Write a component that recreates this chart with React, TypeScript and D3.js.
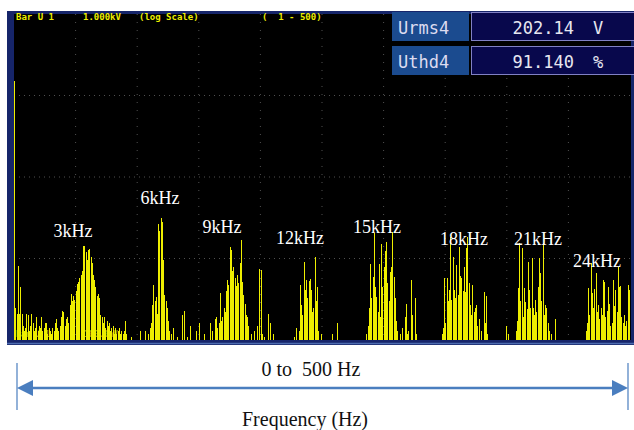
import React from "react";
import * as d3 from "d3";

// harmonic order / amplitude (V)
const bandFundamental = [
  [1, 149], [2, 0.25], [3, 0.21], [4, 0.81], [5, 0.21], [6, 0.45], [7, 0.21], [8, 0.15], [9, 0.13], [10, 0.14],
  [11, 0.21], [12, 0.2], [13, 0.13], [14, 0.15], [15, 0.21], [16, 0.16], [17, 0.13], [18, 0.14], [19, 0.19], [20, 0.13],
  [21, 0.15], [22, 0.14], [23, 0.19], [24, 0.13], [25, 0.14], [26, 0.16], [27, 0.16], [28, 0.12], [29, 0.14], [30, 0.13],
  [31, 0.12], [32, 0.14], [33, 0.13], [34, 0.16], [35, 0.18], [36, 0.14],
];
const band3k = [
  [37, 0.13], [38, 0.15], [39, 0.19], [40, 0.23], [41, 0.22], [42, 0.15], [43, 0.18], [44, 0.19], [45, 0.16], [46, 0.27],
  [47, 0.37], [48, 0.3], [49, 0.35], [50, 0.31], [51, 0.4], [52, 0.49], [53, 0.51], [54, 0.57], [55, 0.62], [56, 0.7],
  [57, 1.42], [58, 1.42], [59, 1.2], [60, 0.95], [61, 1.27], [62, 1.3], [63, 1.05], [64, 0.88], [65, 0.62], [66, 0.55],
  [67, 0.45], [68, 0.35], [69, 0.37], [70, 0.33], [71, 0.2], [72, 0.19], [73, 0.16], [74, 0.19], [75, 0.14], [76, 0.17],
  [77, 0.15], [78, 0.16], [79, 0.13], [80, 0.14], [81, 0.15], [82, 0.12], [83, 0.14], [84, 0.12], [85, 0.13], [86, 0.14],
  [87, 0.12], [88, 0.13], [89, 0.12], [90, 0.13], [91, 0.17], [92, 0.12], [96, 0.11], [103, 0.13], [107, 0.13],
];
const band6k = [
  [110, 0.12], [111, 0.14], [112, 0.16], [113, 0.27], [114, 0.47], [115, 0.3], [116, 0.34], [117, 0.21], [118, 2.66], [119, 2.2],
  [120, 3.15], [121, 2.81], [122, 0.95], [123, 0.36], [124, 0.3], [125, 0.25], [126, 0.17], [127, 0.13], [128, 0.12], [130, 0.14],
  [133, 0.11], [137, 0.2], [139, 0.23], [141, 0.11], [144, 0.15], [149, 0.13], [151, 0.16], [155, 0.12], [160, 0.16],
];
const band9k = [
  [162, 0.13], [164, 0.18], [165, 0.19], [166, 0.14], [167, 0.16], [168, 0.38], [169, 0.17], [170, 0.19], [171, 0.25], [172, 0.22],
  [173, 0.4], [174, 0.54], [175, 0.47], [176, 1.38], [177, 1.27], [178, 0.7], [179, 0.78], [180, 0.57], [181, 0.46], [182, 0.62],
  [183, 0.5], [184, 0.88], [185, 1.69], [186, 0.52], [187, 0.36], [188, 0.28], [189, 0.2], [190, 0.19], [191, 0.15], [193, 0.12],
  [196, 0.13], [198, 0.15], [200, 0.74], [201, 0.72], [202, 0.12], [204, 0.11], [207, 0.21], [209, 0.16], [211, 0.12],
];
const band12k = [
  [228, 0.11], [230, 0.14], [232, 0.13], [233, 0.47], [234, 0.27], [235, 0.2], [236, 0.9], [237, 0.41], [238, 0.54], [239, 0.33],
  [240, 0.53], [241, 0.56], [242, 0.41], [243, 0.22], [244, 0.25], [245, 1.04], [246, 0.3], [247, 0.45], [248, 0.13], [250, 0.12],
  [259, 0.12], [263, 0.16],
];
const band15k = [
  [287, 0.12], [288, 0.15], [289, 0.25], [290, 0.85], [291, 0.33], [292, 0.59], [293, 2.06], [294, 0.45], [295, 0.34], [296, 0.22],
  [297, 0.85], [298, 0.19], [299, 1.5], [300, 0.45], [301, 0.78], [302, 1.23], [303, 1.59], [304, 0.5], [305, 0.3], [306, 0.68],
  [307, 0.78], [308, 2.12], [309, 0.59], [310, 0.33], [311, 0.17], [312, 0.13], [314, 0.12], [316, 0.14], [318, 0.19], [319, 0.28],
  [320, 0.12], [321, 0.13], [323, 0.54], [324, 0.2], [326, 0.33], [327, 0.12],
];
const band18k = [
  [348, 0.12], [349, 0.14], [350, 0.57], [351, 0.16], [352, 0.57], [353, 0.3], [354, 0.41], [355, 1.84], [356, 0.31], [357, 1.04],
  [358, 0.41], [359, 0.33], [360, 0.83], [361, 0.36], [362, 1.38], [363, 0.61], [364, 0.57], [365, 0.4], [366, 0.78], [367, 0.39],
  [368, 1.34], [369, 1.84], [370, 0.5], [371, 0.27], [372, 0.2], [373, 0.47], [374, 0.22], [375, 0.25], [376, 0.27], [377, 0.15],
  [378, 0.18], [380, 0.13], [382, 0.39], [383, 0.16], [384, 0.35], [385, 0.12],
];
const band21k = [
  [400, 0.15], [402, 0.12], [408, 0.13], [409, 0.17], [410, 0.43], [411, 1.55], [412, 0.3], [413, 1.34], [414, 0.19], [415, 0.43],
  [416, 0.29], [417, 0.24], [418, 0.9], [419, 0.41], [420, 0.25], [421, 1.01], [422, 0.25], [423, 0.2], [424, 0.31], [425, 0.22],
  [426, 0.45], [427, 1.01], [428, 0.66], [429, 0.3], [430, 1.55], [431, 0.2], [432, 0.27], [433, 0.25], [434, 0.16], [435, 0.13],
  [437, 0.12], [440, 0.18],
];
const band24k = [
  [465, 0.13], [466, 0.16], [467, 0.43], [468, 0.2], [469, 0.88], [470, 0.38], [471, 0.25], [472, 0.42], [473, 0.66], [474, 0.22],
  [475, 0.27], [476, 0.18], [477, 0.25], [478, 0.2], [479, 0.54], [480, 0.51], [481, 0.19], [482, 0.23], [483, 0.45], [484, 0.28],
  [485, 0.15], [486, 0.16], [487, 0.54], [488, 0.26], [489, 0.41], [490, 0.22], [491, 0.78], [492, 0.45], [493, 0.46], [494, 0.19],
  [495, 0.16], [496, 0.2], [497, 0.15], [498, 0.17], [499, 0.47], [500, 0.41],
];

const headerTexts = ["Bar U 1", "1.000kV", "(log Scale)", "(  1 - 500)"];
const readingNames = ["Urms4", "Uthd4"];
const readingValues = ["202.14", "91.140"];
const readingUnits = ["V", "%"];
const peakLabels = ["3kHz", "6kHz", "9kHz", "12kHz", "15kHz", "18kHz", "21kHz", "24kHz"];
const rangeText = "0 to  500 Hz";
const axisTitle = "Frequency (Hz)";

// where the annotations sit on the screenshot
const headerX = [16, 83, 139, 262];
const peakLabelPos = [[73, 237], [160, 204], [222, 233], [300, 244], [377, 233], [464, 245], [538, 245], [597, 267]];

const W = 634;
const H = 430;
const left = 14, right = 630, top = 14, bottom = 340;

export default function App() {
  const bars = [
    ...bandFundamental, ...band3k, ...band6k, ...band9k, ...band12k,
    ...band15k, ...band18k, ...band21k, ...band24k,
  ];

  const x = d3.scaleLinear().domain([0.5, 500.5]).range([left, right]);
  const y = d3.scaleLog().domain([0.1, 1000]).range([bottom, top]);

  const vGrid = d3.range(50, 500, 50).map((n) => x(n + 0.5));
  const hGrid = [100, 10, 1].map((v) => y(v));

  const navy = "#16256a";
  const yellow = "#eeee00";
  const mono = "'DejaVu Sans Mono', monospace";
  const serif = "'Liberation Serif', 'Times New Roman', serif";

  return (
    <svg width={W} height={H} style={{ position: "absolute", left: 0, top: 0, background: "#fff" }}>
      {/* screen frame */}
      <rect x={7} y={11} width={W - 7} height={334} fill={navy} />
      <rect x={left} y={top} width={617} height={bottom - top} fill="#000" />
      <line x1={7} x2={W} y1={343.5} y2={343.5} stroke="#4d6cb0" strokeWidth={1.5} />

      {/* dotted graticule */}
      {vGrid.map((gx, i) => (
        <line key={"v" + i} x1={gx} x2={gx} y1={top} y2={bottom} stroke="#505050" strokeDasharray="1 7" />
      ))}
      {hGrid.map((gy, i) => (
        <line key={"h" + i} x1={left} x2={right} y1={gy} y2={gy} stroke="#505050" strokeDasharray="1 4" />
      ))}

      {/* header */}
      {headerTexts.map((t, i) => (
        <text key={t} x={headerX[i]} y={20} fill={yellow} fontFamily={mono} fontWeight="bold" fontSize={9} style={{ whiteSpace: "pre" }}>
          {t}
        </text>
      ))}
      <text x={16} y={337} fill="#c8c800" fontFamily={mono} fontWeight="bold" fontSize={8} opacity={0.8}>Bar U 1</text>
      <text x={84} y={337} fill="#c8c800" fontFamily={mono} fontWeight="bold" fontSize={8} opacity={0.8}>100.0mV</text>

      {/* harmonic bars */}
      <g fill={yellow} shapeRendering="crispEdges">
        {bars.map(([n, v]) => (
          <rect key={n} x={x(n) - 0.5} width={1} y={y(v)} height={bottom - y(v)} />
        ))}
      </g>

      {/* reading boxes */}
      {readingNames.map((name, i) => {
        const by = i === 0 ? 12 : 46;
        return (
          <g key={name}>
            <rect x={392} y={by} width={77} height={29} fill="#1b4b8f" />
            <rect x={471.5} y={by + 0.5} width={170} height={28} fill="#08084c" stroke="#8080c4" strokeWidth={1} />
            <text x={398} y={by + 22} fill="#dcdcf0" fontFamily={mono} fontSize={17}>{name}</text>
            <text x={574} y={by + 22} fill="#e6e6f0" fontFamily={mono} fontSize={17} textAnchor="end">{readingValues[i]}</text>
            <text x={593} y={by + 22} fill="#e6e6f0" fontFamily={mono} fontSize={17}>{readingUnits[i]}</text>
          </g>
        );
      })}

      {/* peak annotations */}
      {peakLabels.map((t, i) => (
        <text key={t} x={peakLabelPos[i][0]} y={peakLabelPos[i][1]} fill="#fff" fontFamily={serif} fontSize={18} textAnchor="middle">
          {t}
        </text>
      ))}

      {/* frequency span arrow */}
      <g stroke="#4a7ebf" fill="#4a7ebf">
        <line x1={17} x2={17} y1={363} y2={410} strokeWidth={1.2} />
        <line x1={628} x2={628} y1={363} y2={410} strokeWidth={1.2} />
        <line x1={28} x2={617} y1={388} y2={388} strokeWidth={2.5} />
        <path d="M17,388 L33,380 L33,396 Z" stroke="none" />
        <path d="M628,388 L612,380 L612,396 Z" stroke="none" />
      </g>
      <text x={311} y={376} fontFamily={serif} fontSize={20} textAnchor="middle" fill="#111" style={{ whiteSpace: "pre" }}>
        {rangeText}
      </text>
      <text x={305} y={426} fontFamily={serif} fontSize={20} textAnchor="middle" fill="#111">
        {axisTitle}
      </text>
    </svg>
  );
}
